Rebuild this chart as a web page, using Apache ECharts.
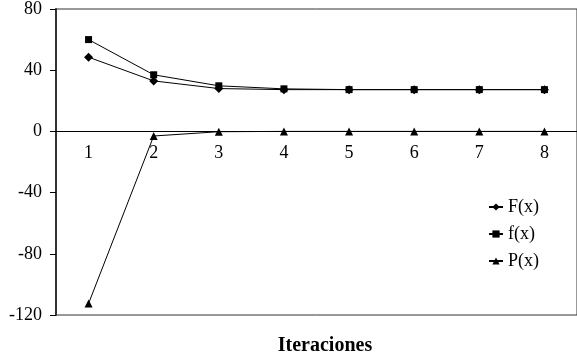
<!DOCTYPE html>
<html>
<head>
<meta charset="utf-8">
<script src="https://cdn.jsdelivr.net/npm/echarts@6/dist/echarts.min.js"></script>
<style>
  html, body { margin: 0; padding: 0; background: #fff; }
  #chart { width: 577px; height: 354px; }
</style>
</head>
<body>
<div id="chart"></div>
<script>
const iterations = ['1', '2', '3', '4', '5', '6', '7', '8']
const bigF = [48.5, 33, 28, 27.3, 27.3, 27.3, 27.3, 27.3]
const smallF = [60, 37, 29.8, 27.8, 27.3, 27.3, 27.3, 27.3]
const bigP = [-112.5, -3, -0.2, 0, 0, 0, 0, 0]

const yMin = -120
const yMax = 80

const font = 'Liberation Serif'

// plot box
const plotTop = 9
const plotBottom = 315
const zeroY = plotTop + (yMax / (yMax - yMin)) * (plotBottom - plotTop)

function lineSeries(name, data, symbol, size) {
  return {
    name: name,
    type: 'line',
    data: data,
    symbol: symbol,
    symbolSize: size,
    showSymbol: true,
    itemStyle: { color: '#000' },
    lineStyle: { color: '#000', width: 1 }
  }
}

const chart = echarts.init(document.getElementById('chart'))

chart.setOption({
  animation: false,
  title: {
    text: 'Iteraciones',
    left: 320,
    top: 331,
    textAlign: 'center',
    textStyle: { fontFamily: font, fontSize: 20, fontWeight: 'bold', color: '#000' }
  },
  grid: [
    { left: 56, top: plotTop, right: -6, bottom: 354 - plotBottom,
      show: true, borderColor: '#333', borderWidth: 1 },
    // second grid only carries the category axis drawn on the zero line
    { left: 56, top: plotTop, right: -6, height: zeroY - plotTop }
  ],
  legend: {
    orient: 'vertical',
    left: 483,
    top: 193,
    itemWidth: 14,
    itemHeight: 9,
    itemGap: 9,
    textStyle: { fontFamily: font, fontSize: 18, color: '#000' },
    data: ['F(x)', 'f(x)', 'P(x)']
  },
  xAxis: [{
    type: 'category',
    gridIndex: 0,
    data: iterations,
    boundaryGap: true,
    axisLine: { show: false },
    axisTick: { show: false },
    axisLabel: { show: false },
    splitLine: { show: false }
  }, {
    type: 'category',
    gridIndex: 1,
    data: iterations,
    boundaryGap: true,
    axisLine: { onZero: false, lineStyle: { color: '#000', width: 1 } },
    axisTick: { inside: true, length: 4, interval: 0, lineStyle: { color: '#000' } },
    axisLabel: { fontFamily: font, fontSize: 18, color: '#000', margin: 13 },
    splitLine: { show: false }
  }],
  yAxis: [{
    type: 'value',
    gridIndex: 0,
    min: yMin,
    max: yMax,
    interval: 40,
    axisLine: { show: true, onZero: false, lineStyle: { color: '#333', width: 2 } },
    axisTick: { show: true, length: 6, lineStyle: { color: '#000' } },
    axisLabel: { fontFamily: font, fontSize: 18, color: '#000', margin: 14 },
    splitLine: { show: false }
  }, {
    type: 'value',
    gridIndex: 1,
    show: false
  }],
  series: [
    lineSeries('F(x)', bigF, 'diamond', 9),
    lineSeries('f(x)', smallF, 'rect', 7),
    lineSeries('P(x)', bigP, 'triangle', 8)
  ]
})
</script>
</body>
</html>
